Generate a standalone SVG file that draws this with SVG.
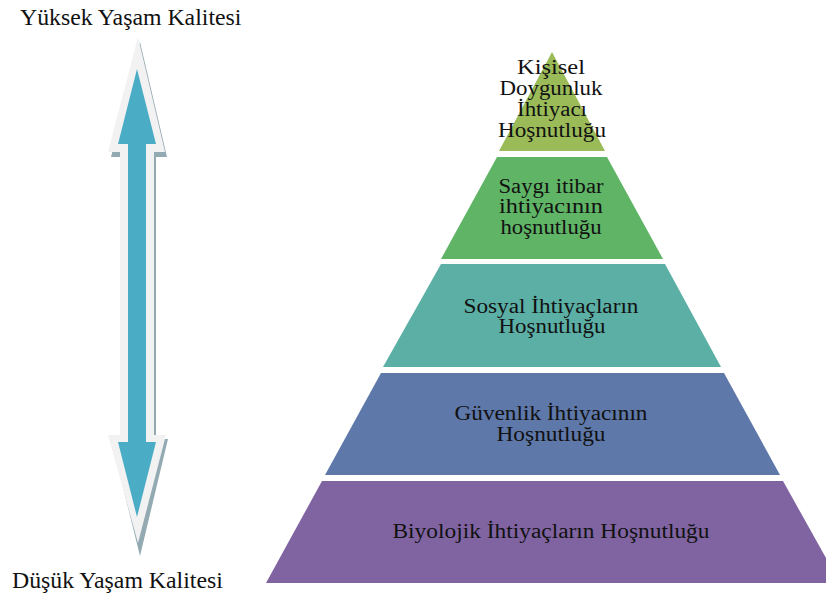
<svg xmlns="http://www.w3.org/2000/svg" width="826" height="597" viewBox="0 0 826 597">
<style>
.hd{font-family:"Liberation Serif","Times New Roman",serif;font-size:23.8px;fill:#111}
.lb{font-family:"Liberation Serif","Times New Roman",serif;font-size:20px;fill:#111;text-anchor:middle}
</style>
<rect width="826" height="597" fill="#fff"/>
<g id="arrow">
<polygon fill="#93AAB2" points="140,42 167,157 156,157 156,439 168,439 140,556 111,439 124,439 124,157 111,157"/>
<polygon fill="#F2F2F2" points="138,37 165,152 154,152 154,435 166,435 138,543 108,435 120,435 120,152 108,152"/>
<polygon fill="#4BACC6" points="137,69 156,144 146,144 146,442 156,442 137,517 118,442 128,442 128,144 118,144"/>
</g>
<g id="label-top"><text class="hd" x="20" y="25">Yüksek Yaşam Kalitesi</text></g>
<g id="label-bottom"><text class="hd" x="12" y="588">Düşük Yaşam Kalitesi</text></g>
<g id="level1">
<polygon fill="#9BBB59" points="552,52 605,151 499,151"/>
<text class="lb" x="551" y="74" textLength="68" lengthAdjust="spacingAndGlyphs">Kişisel</text>
<text class="lb" x="551" y="95" textLength="103" lengthAdjust="spacingAndGlyphs">Doygunluk</text>
<text class="lb" x="552" y="116" textLength="70" lengthAdjust="spacingAndGlyphs">İhtiyacı</text>
<text class="lb" x="552" y="137" textLength="108" lengthAdjust="spacingAndGlyphs">Hoşnutluğu</text>
</g>
<g id="level2">
<polygon fill="#5FB466" points="497,157 607,157 663,259 441,259"/>
<text class="lb" x="551" y="193" textLength="105" lengthAdjust="spacingAndGlyphs">Saygı itibar</text>
<text class="lb" x="551" y="213" textLength="104" lengthAdjust="spacingAndGlyphs">ihtiyacının</text>
<text class="lb" x="551" y="234" textLength="101" lengthAdjust="spacingAndGlyphs">hoşnutluğu</text>
</g>
<g id="level3">
<polygon fill="#5BAFA5" points="441,264 665,264 721,367 383,367"/>
<text class="lb" x="551" y="313" textLength="175" lengthAdjust="spacingAndGlyphs">Sosyal İhtiyaçların</text>
<text class="lb" x="552" y="333" textLength="107" lengthAdjust="spacingAndGlyphs">Hoşnutluğu</text>
</g>
<g id="level4">
<polygon fill="#5E78A9" points="381,373 724,373 780,475 325,475"/>
<text class="lb" x="551" y="420" textLength="193" lengthAdjust="spacingAndGlyphs">Güvenlik İhtiyacının</text>
<text class="lb" x="551" y="441" textLength="109" lengthAdjust="spacingAndGlyphs">Hoşnutluğu</text>
</g>
<g id="level5">
<polygon fill="#8064A2" points="322,481 783,481 840,583 266,583"/>
<text class="lb" x="551" y="538" textLength="317" lengthAdjust="spacingAndGlyphs">Biyolojik İhtiyaçların Hoşnutluğu</text>
</g>
<g id="connectors"/>
</svg>
